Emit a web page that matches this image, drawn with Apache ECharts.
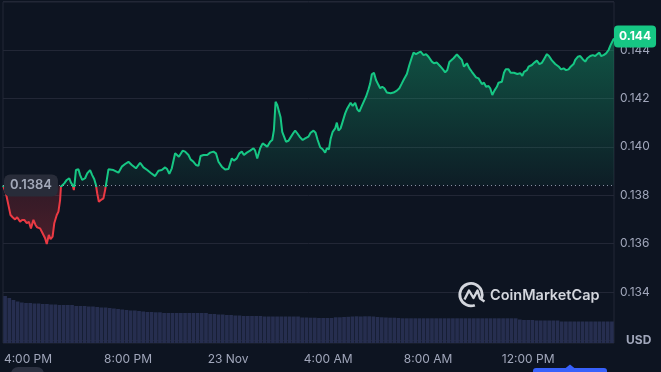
<!DOCTYPE html>
<html><head><meta charset="utf-8">
<script src="https://cdn.jsdelivr.net/npm/echarts@6/dist/echarts.min.js"></script>
<style>html,body{margin:0;padding:0;background:#0d1421;}#c{width:661px;height:372px;}</style>
</head><body><div id="c"></div>
<script>
// minutes since 3:00 PM, 22 Nov
const minutes = [
0,7,13,18,23,29,34,41,46,51,
57,62,67,73,78,82,89,95,101,105,
110,114,119,123,129,133,137,139,143,147,
153,159,163,167,170,172,175,181,185,190,
197,202,209,214,219,223,226,230,235,241,
245,249,253,
257,265,277,285,293,301,309,
319,329,337,346,354,365,373,381,389,394,
399,405,413,417,422,426,431,437,441,445,
450,457,463,469,474,481,485,490,497,505,
511,517,525,
533,541,549,554,561,567,573,
578,585,593,601,605,610,617,623,629,634,
641,646,650,654,658,663,666,670,674,679,
685,690,697,701,706,713,719,725,733,738,
745,750,755,761,767,773,777,782,
786,791,
797,801,805,810,815,821,825,829,834,839,
845,850,855,861,865,871,877,881,885,890,
895,901,905,910,915,921,925,930,937,945,
951,957,962,969,975,981,985,991,997,1002,
1009,1015,1021,1029,1034,1041,1049,1055,1061,
1066,
1071,1081,1089,1095,1101,1106,1113,1119,1125,1129,
1135,1141,1145,1149,1154,1159,1165,1169,1174,1179,
1185,1189,1197,1202,1206,1213,1218,1226,1234,1241,
1246,1250,1257,1261,1269,1274,1281,1287,1293,1298,
1305,1310,1317,1325,1333,1339,1345,1351,1357,1362,
1369,1373,1379,1385,1391,1397,1402,1409,1415,1421,
1426,1431,1435,1441,1447,1453,1458,1463,1466
];
const prices = [
0.1384,0.13808,0.13759,0.13718,0.13709,0.13700,0.13709,0.13690,0.13698,0.13698,
0.13685,0.13690,0.13663,0.13698,0.13677,0.13667,0.13663,0.13643,0.13622,0.13598,
0.13636,0.13618,0.13629,0.13684,0.13718,0.13732,0.13780,0.13835,0.13835,0.13849,
0.13863,0.13870,0.13852,0.13842,0.13821,0.13852,0.13904,0.13907,0.13883,0.13863,
0.13870,0.13890,0.13904,0.13883,0.13866,0.13842,0.13808,0.13773,0.13780,0.13787,
0.13821,0.13863,0.13907,
0.13908,0.13904,0.13893,0.13918,0.13929,0.13938,0.13925,
0.13911,0.13934,0.13915,0.13904,0.13893,0.13879,0.13901,0.13904,0.13915,0.13907,
0.13888,0.13911,0.13973,0.13970,0.13959,0.13966,0.13984,0.13980,0.13987,0.13966,
0.13948,0.13938,0.13925,0.13921,0.13962,0.13966,0.13973,0.13966,0.13976,0.13980,
0.13973,0.13938,0.13918,
0.13906,0.13908,0.13952,0.13943,0.13952,0.13973,0.13980,
0.13966,0.13976,0.13984,0.13994,0.13984,0.13952,0.13994,0.14014,0.14007,0.14000,
0.14021,0.14028,0.14069,0.14186,0.14173,0.14141,0.14122,0.14062,0.14058,0.14021,
0.14025,0.14039,0.14058,0.14067,0.14056,0.14039,0.14028,0.14035,0.14042,0.14058,
0.14067,0.14058,0.14028,0.13998,0.13990,0.13976,0.13994,0.13990,
0.14032,0.14062,
0.14076,0.14100,0.14067,0.14076,0.14104,0.14138,0.14155,0.14152,0.14182,0.14169,
0.14182,0.14155,0.14145,0.14169,0.14173,0.14207,0.14238,0.14262,0.14300,0.14306,
0.14276,0.14255,0.14242,0.14248,0.14242,0.14224,0.14218,0.14221,0.14224,0.14232,
0.14242,0.14262,0.14279,0.14301,0.14338,0.14370,0.14389,0.14383,0.14389,0.14393,
0.14379,0.14383,0.14372,0.14352,0.14345,0.14348,0.14333,0.14321,0.14308,
0.14317,
0.14350,0.14366,0.14382,0.14370,0.14359,0.14331,0.14345,0.14324,0.14310,0.14306,
0.14287,0.14283,0.14279,0.14259,0.14265,0.14248,0.14251,0.14242,0.14214,0.14232,
0.14248,0.14265,0.14269,0.14306,0.14320,0.14320,0.14306,0.14306,0.14301,0.14304,
0.14293,0.14310,0.14317,0.14331,0.14338,0.14347,0.14356,0.14342,0.14347,0.14362,
0.14383,0.14375,0.14357,0.14342,0.14332,0.14320,0.14324,0.14317,0.14320,0.14331,
0.14342,0.14359,0.14372,0.14375,0.14362,0.14352,0.14366,0.14375,0.14379,0.14375,
0.14383,0.14389,0.14375,0.14379,0.14386,0.14400,0.14421,0.14438,0.14448
];
// rolling volume (millions), one bar per 10 minutes
const volumes = [
4.7,4.5,4.3,4.15,
4.05,4.0,4.0,3.95,3.95,3.9,3.9,
3.85,3.85,3.8,3.8,3.8,3.8,
3.7,3.7,3.7,
3.65,3.65,3.6,3.55,3.55,3.5,
3.45,3.4,3.35,3.3,3.25,3.25,3.2,
3.15,3.1,3.1,3.07,3.07,
3.0,3.0,3.0,3.0,3.0,3.0,3.0,3.0,3.0,3.0,3.0,
2.9,2.9,2.85,2.85,2.8,2.8,
2.75,2.75,2.7,2.7,2.7,2.7,2.7,
2.65,2.65,2.65,2.65,2.65,2.65,2.65,2.65,2.65,
2.55,2.55,2.53,2.53,2.5,2.5,2.5,2.5,
2.57,2.57,2.6,2.62,2.65,2.67,
2.65,2.67,2.67,2.65,
2.6,2.57,2.55,2.53,2.53,2.5,
2.47,2.47,2.47,2.47,2.47,2.47,2.47,2.47,2.47,2.47,2.47,2.47,2.47,2.47,
2.47,2.47,2.47,2.47,2.47,2.47,2.47,2.47,2.47,2.47,2.47,2.47,2.47,2.47,
2.35,2.3,2.3,2.3,
2.25,2.25,2.25,2.25,2.25,2.25,
2.15,2.15,2.15,2.15,2.15,2.15,2.15,2.15,2.15,2.15,2.15,2.15,2.15
];
const timeTickValues = [60, 300, 540, 780, 1020, 1260];
const timeTickLabels = ['4:00 PM', '8:00 PM', '23 Nov', '4:00 AM', '8:00 AM', '12:00 PM'];
const openPrice = 0.1384;
const priceMin = 0.132, priceMax = 0.146, priceStep = 0.002;
const timeMax = 1466;
const volumeMax = 34.1;

const GREEN = '#16c784', RED = '#ea3943', TXT = '#a1a7bb', GRIDC = '#222736';
const n = Math.min(minutes.length, prices.length);
const lineData = [];
for (let i = 0; i < n; i++) lineData.push([minutes[i], prices[i]]);
const volCats = volumes.map((v, i) => String(i));
const pMax = Math.max(...prices), pMin = Math.min(...prices);
const k = (pMax - openPrice) / (pMax - pMin);
const deg = Math.PI / 180;
const LG = echarts.graphic.LinearGradient;

const baseData = [
  {value: [0, openPrice], symbol: 'circle', symbolSize: 0,
    label: {show: true, position: 'right', distance: 1, formatter: String(openPrice),
      color: '#a3a9b9', fontSize: 13, fontWeight: 600, backgroundColor: '#282c39', borderRadius: 6,
      padding: [5, 6, 4, 6], lineHeight: 13}},
  {value: [timeMax, openPrice], symbolSize: 0}
];

const chart = echarts.init(document.getElementById('c'), null, {renderer: 'canvas'});
chart.setOption({
  backgroundColor: '#0d1421',
  animation: false,
  textStyle: {fontFamily: 'Inter, "Noto Sans", sans-serif'},
  grid: [
    {left: 3, right: 47, top: 1.6, bottom: 31.6},
    {left: 3, right: 47, top: 2, bottom: 29, show: true, borderColor: GRIDC, borderWidth: 1}
  ],
  xAxis: [
    {gridIndex: 0, type: 'value', min: 0, max: timeMax,
      axisLine: {show: false}, axisTick: {show: false}, splitLine: {show: false},
      axisLabel: {customValues: timeTickValues, color: TXT, fontSize: 12, margin: 13,
        formatter: v => { const j = timeTickValues.indexOf(v); return j >= 0 ? timeTickLabels[j] : ''; }}},
    {gridIndex: 1, type: 'category', data: volCats, show: false, boundaryGap: true}
  ],
  yAxis: [
    {gridIndex: 0, type: 'value', position: 'right', min: priceMin, max: priceMax, interval: priceStep,
      axisLine: {show: false}, axisTick: {show: false},
      splitLine: {lineStyle: {color: GRIDC, width: 1}},
      axisLabel: {color: TXT, fontSize: 12, margin: 6, showMinLabel: false, showMaxLabel: false,
        formatter: v => v.toFixed(3)}},
    {gridIndex: 1, type: 'value', min: 0, max: volumeMax, show: false}
  ],
  series: [
    {type: 'bar', xAxisIndex: 1, yAxisIndex: 1, data: volumes, barCategoryGap: '12%',
      itemStyle: {color: '#262e4f'}, z: 1, silent: true},
    {type: 'line', xAxisIndex: 0, yAxisIndex: 0, data: lineData, showSymbol: false, symbol: 'none',
      z: 5, smooth: false, silent: true,
      lineStyle: {width: 2, color: new LG(0, 0, 0, 1, [
          {offset: 0, color: GREEN}, {offset: k, color: GREEN},
          {offset: k, color: RED}, {offset: 1, color: RED}])},
      areaStyle: {origin: openPrice, opacity: 1,
        color: new LG(0, 0, 0, 1, [
          {offset: 0, color: 'rgba(22,199,132,0.36)'},
          {offset: k, color: 'rgba(22,199,132,0.05)'},
          {offset: k, color: 'rgba(234,57,67,0.16)'},
          {offset: 1, color: 'rgba(234,57,67,0.28)'}
        ])},
      endLabel: {show: true, formatter: p => p.value[1].toFixed(3), color: '#ffffff', fontWeight: 'bold',
        fontSize: 12, backgroundColor: GREEN, borderRadius: 4, padding: [4, 5], lineHeight: 14, distance: 0,
        offset: [0, -2]}
    },
    {type: 'line', xAxisIndex: 0, yAxisIndex: 0, data: baseData, z: 6, silent: true,
      showSymbol: true, symbol: 'circle', symbolSize: 0,
      lineStyle: {color: '#9aa0b2', type: [1, 3], width: 1, opacity: 0.9}}
  ],
  graphic: [
    {type: 'arc', z: 3, shape: {cx: 471, cy: 294.7, r: 11.2, startAngle: 70 * deg, endAngle: 380 * deg, clockwise: true},
      style: {fill: 'none', stroke: '#d3d6dd', lineWidth: 2.8}},
    {type: 'polyline', z: 3, shape: {points: [[464.5, 299.5], [469, 290.5], [473.5, 298], [477.5, 290.5], [480, 298.5], [484.5, 301.5]]},
      style: {fill: 'none', stroke: '#d3d6dd', lineWidth: 2.4, lineJoin: 'round'}},
    {type: 'text', z: 3, left: 490, top: 288, style: {text: 'CoinMarketCap', fill: '#d3d6dd',
      font: '600 14.5px Inter, "Noto Sans", sans-serif'}},
    {type: 'text', left: 626, top: 334, style: {text: 'USD', fill: TXT,
      font: 'bold 12px Inter, "Noto Sans", sans-serif'}},
    {type: 'rect', shape: {x: 11, y: 367, width: 33, height: 14, r: 7}, style: {fill: '#2b3040'}},
    {type: 'rect', shape: {x: 533, y: 368, width: 74, height: 12, r: 3}, style: {fill: '#3861fb'}},
    {type: 'polygon', shape: {points: [[565, 368.5], [570, 364.5], [575, 368.5]]}, style: {fill: '#3861fb'}}
  ]
});
</script></body></html>
